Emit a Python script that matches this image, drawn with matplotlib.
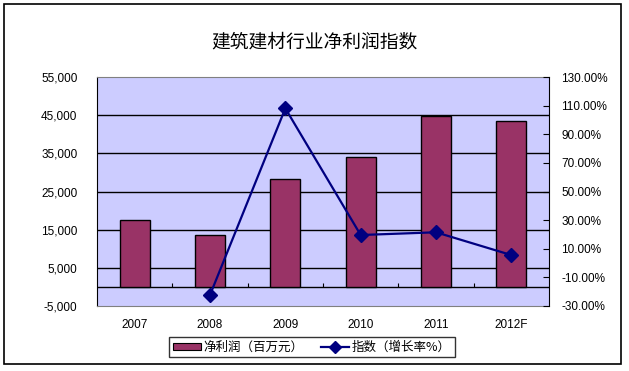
import matplotlib
matplotlib.use("Agg")
import matplotlib.pyplot as plt
from matplotlib.patches import Rectangle, Patch
from matplotlib.lines import Line2D
import numpy as np

plt.rcParams['font.family'] = ['Noto Sans CJK SC', 'DejaVu Sans']

categories = ['2007', '2008', '2009', '2010', '2011', '2012F']
profit = [17500, 13600, 28300, 34000, 44800, 43500]
growth_years = ['2008', '2009', '2010', '2011', '2012F']
growth = [-22.3, 108.1, 19.6, 21.5, 5.6]
left_ticks = [-5000, 5000, 15000, 25000, 35000, 45000, 55000]
right_ticks = [-30, -10, 10, 30, 50, 70, 90, 110, 130]
title = '建筑建材行业净利润指数'
bar_label = '净利润（百万元）'
line_label = '指数（增长率%）'

W, H = 629, 371
fig = plt.figure(figsize=(W / 100, H / 100), dpi=100)
fig.patch.set_facecolor('white')
fig.patches.append(Rectangle((4 / W, 1 - 364 / H), 617 / W, 360 / H,
                             transform=fig.transFigure, fill=False,
                             edgecolor='black', linewidth=1.2))

ax = fig.add_axes([97 / W, 1 - 306 / H, 452 / W, 229 / H])
ax.set_facecolor('#CCCCFF')
x = np.arange(len(categories))
ax.set_xlim(-0.5, len(categories) - 0.5)
ax.set_ylim(-5000, 55000)
ax.set_yticks(left_ticks)
ax.set_yticklabels([f'{v:,}' for v in left_ticks], family='Liberation Sans', fontsize=8.5)
ax.tick_params(axis='y', length=0, pad=14)
ax.set_xticks(x)
ax.set_xticklabels(categories, family='Liberation Sans', fontsize=8.5)
ax.tick_params(axis='x', length=0, pad=9)
for v in left_ticks[1:-1]:
    ax.axhline(v, color='black', linewidth=1, zorder=1)
ax.axhline(0, color='black', linewidth=1, zorder=1)
for s in ['top', 'bottom']:
    ax.spines[s].set_color('#808080')
ax.spines['left'].set_color('black')
ax.spines['right'].set_visible(False)

ax.bar(x, profit, width=0.4, color='#993366', edgecolor='black', linewidth=1, zorder=2)

sec = ax.secondary_xaxis(5000 / 60000)
sec.set_xticks(np.arange(len(categories) - 1) + 0.5)
sec.set_xticklabels([])
sec.tick_params(direction='in', length=3, color='black')
sec.spines['bottom'].set_visible(False)
sec.spines['top'].set_visible(False)

ax2 = ax.twinx()
ax2.set_ylim(-30, 130)
ax2.set_yticks(right_ticks)
ax2.set_yticklabels([f'{v:.2f}%' for v in right_ticks], family='Liberation Sans', fontsize=8.5)
ax2.tick_params(axis='y', direction='in', length=4, pad=9, color='black')
ax2.spines['right'].set_color('black')
for s in ['top', 'bottom', 'left']:
    ax2.spines[s].set_visible(False)
gx = [categories.index(c) for c in growth_years]
ax2.plot(gx, growth, color='#000080', linewidth=1.6, marker='D', markersize=7,
         markerfacecolor='#000080', markeredgecolor='#000080', zorder=3)

fig.text(314 / W, 1 - 42 / H, title, ha='center', va='center', fontsize=13.5)

handles = [Patch(facecolor='#993366', edgecolor='black', linewidth=0.8),
           Line2D([], [], color='#000080', linewidth=1.6, marker='D', markersize=6)]
leg = fig.legend(handles, [bar_label, line_label], loc='center',
                 bbox_to_anchor=(312 / W, 1 - 347 / H), ncol=2, frameon=True,
                 fancybox=False, edgecolor='black', fontsize=9,
                 handlelength=2.2, handleheight=0.5, columnspacing=1.4,
                 handletextpad=0.25, borderpad=0.3, borderaxespad=0)
leg.get_frame().set_linewidth(1)

fig.savefig('out.png', dpi=100)
